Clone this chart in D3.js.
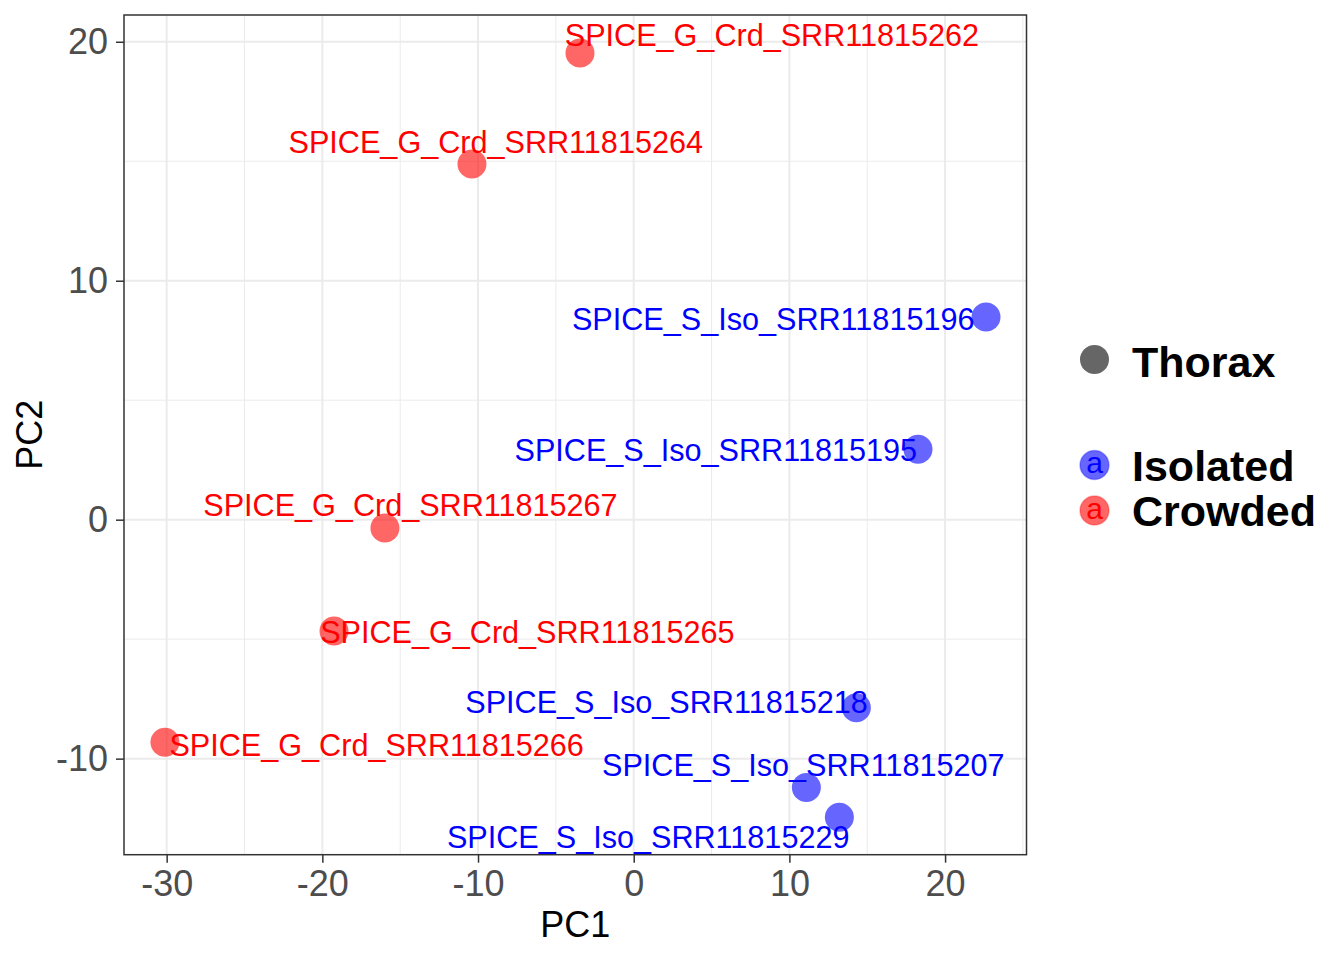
<!DOCTYPE html>
<html>
<head>
<meta charset="utf-8">
<script src="https://cdn.jsdelivr.net/npm/d3@7"></script>
<style>
  body { margin: 0; background: #fff; }
  svg { display: block; font-family: "Liberation Sans", Arial, Helvetica, sans-serif; }
</style>
</head>
<body>
<div id="chart"></div>
<script>
// ---- DATA ----
var samples = ["SPICE_G_Crd_SRR11815262", "SPICE_G_Crd_SRR11815264", "SPICE_S_Iso_SRR11815196",
               "SPICE_S_Iso_SRR11815195", "SPICE_G_Crd_SRR11815267", "SPICE_G_Crd_SRR11815265",
               "SPICE_S_Iso_SRR11815218", "SPICE_G_Crd_SRR11815266", "SPICE_S_Iso_SRR11815207",
               "SPICE_S_Iso_SRR11815229"];
var groups = ["Crowded", "Crowded", "Isolated", "Isolated", "Crowded", "Crowded",
              "Isolated", "Crowded", "Isolated", "Isolated"];
var pc1 = [-3.45, -10.39, 22.63, 18.26, -15.98, -19.25, 14.30, -30.11, 11.09, 13.21];
var pc2 = [19.53, 14.88, 8.48, 2.95, -0.35, -4.66, -7.87, -9.31, -11.21, -12.45];
// repelled label centres (data units)
var labelPC1 = [8.88, -8.86, 8.96, 5.27, -14.34, -6.83, 2.11, -16.51, 10.89, 0.93];
var labelPC2 = [20.27, 15.80, 8.41, 2.93, 0.60, -4.70, -7.63, -9.41, -10.28, -13.26];

var xTicks = [-30, -20, -10, 0, 10, 20],
    xMinor = [-25, -15, -5, 5, 15, 25],
    yTicks = [-10, 0, 10, 20],
    yMinor = [-5, 5, 15];

var legendGroups = ["Isolated", "Crowded"],
    tissue = "Thorax";

// ---- CHART ----
var width = 1344, height = 960,
    panel = {left: 124, right: 1026.5, top: 15, bottom: 854.7};

var svg = d3.select("#chart").append("svg")
    .attr("width", width)
    .attr("height", height);

var xScale = d3.scaleLinear().domain([-32.74, 25.23]).range([panel.left, panel.right]);
var yScale = d3.scaleLinear().domain([-14.02, 21.12]).range([panel.bottom, panel.top]);

var colour = d3.scaleOrdinal().domain(legendGroups).range(["#0000FF", "#FF0000"]);

// grid: minor then major
var grid = svg.append("g");
grid.selectAll(".vminor").data(xMinor).enter().append("line")
    .attr("x1", xScale).attr("x2", xScale)
    .attr("y1", panel.top).attr("y2", panel.bottom)
    .attr("stroke", "#EBEBEB").attr("stroke-width", 1);
grid.selectAll(".hminor").data(yMinor).enter().append("line")
    .attr("y1", yScale).attr("y2", yScale)
    .attr("x1", panel.left).attr("x2", panel.right)
    .attr("stroke", "#EBEBEB").attr("stroke-width", 1);
grid.selectAll(".vmajor").data(xTicks).enter().append("line")
    .attr("x1", xScale).attr("x2", xScale)
    .attr("y1", panel.top).attr("y2", panel.bottom)
    .attr("stroke", "#EBEBEB").attr("stroke-width", 2);
grid.selectAll(".hmajor").data(yTicks).enter().append("line")
    .attr("y1", yScale).attr("y2", yScale)
    .attr("x1", panel.left).attr("x2", panel.right)
    .attr("stroke", "#EBEBEB").attr("stroke-width", 2);

// points
var idx = d3.range(samples.length);
svg.append("g").selectAll("circle")
    .data(idx)
    .enter()
    .append("circle")
        .attr("cx", function(i){return xScale(pc1[i])})
        .attr("cy", function(i){return yScale(pc2[i])})
        .attr("r", 14.5)
        .attr("fill", function(i){return colour(groups[i])})
        .attr("fill-opacity", 0.6);

// labels
svg.append("g").selectAll("text")
    .data(idx)
    .enter()
    .append("text")
        .attr("x", function(i){return xScale(labelPC1[i])})
        .attr("y", function(i){return yScale(labelPC2[i])})
        .attr("dy", "0.36em")
        .attr("text-anchor", "middle")
        .attr("font-size", 30.6)
        .attr("fill", function(i){return colour(groups[i])})
        .text(function(i){return samples[i]});

// panel border
svg.append("rect")
    .attr("x", panel.left).attr("y", panel.top)
    .attr("width", panel.right - panel.left)
    .attr("height", panel.bottom - panel.top)
    .attr("fill", "none")
    .attr("stroke", "#333333")
    .attr("stroke-width", 1.5);

// axes (plain hyphen minus like R)
var fmt = function(d){return String(d)};
var xAxis = d3.axisBottom(xScale).tickValues(xTicks).tickFormat(fmt).tickSize(8).tickPadding(8);
var yAxis = d3.axisLeft(yScale).tickValues(yTicks).tickFormat(fmt).tickSize(8).tickPadding(8);

var gx = svg.append("g")
    .attr("transform", "translate(0," + panel.bottom + ")")
    .call(xAxis);
var gy = svg.append("g")
    .attr("transform", "translate(" + panel.left + ",0)")
    .call(yAxis);

[gx, gy].forEach(function(g){
    g.select(".domain").remove();
    g.selectAll(".tick line").attr("stroke", "#333333").attr("stroke-width", 1.5);
    g.selectAll(".tick text")
        .attr("fill", "#4D4D4D")
        .attr("font-size", 36)
        .attr("font-family", "Liberation Sans, Arial, sans-serif");
});

// axis titles
svg.append("text")
    .attr("x", (panel.left + panel.right) / 2)
    .attr("y", 937)
    .attr("text-anchor", "middle")
    .attr("font-size", 36)
    .text("PC1");

svg.append("text")
    .attr("transform", "translate(41.5," + (panel.top + panel.bottom) / 2 + ") rotate(-90)")
    .attr("text-anchor", "middle")
    .attr("font-size", 36)
    .text("PC2");

// legend
var legend = svg.append("g");
legend.append("circle")
    .attr("cx", 1094.5).attr("cy", 359.5).attr("r", 14.5)
    .attr("fill", "#000").attr("fill-opacity", 0.6);
legend.append("text")
    .attr("x", 1132).attr("y", 376.5)
    .attr("font-size", 43).attr("font-weight", "bold")
    .text(tissue);

var keys = legend.selectAll(".key")
    .data(legendGroups)
    .enter()
    .append("g")
        .attr("transform", function(d, i){return "translate(0," + (465 + i * 45.5) + ")"});
keys.append("circle")
    .attr("cx", 1094.5).attr("r", 14.5)
    .attr("fill", function(d){return colour(d)})
    .attr("fill-opacity", 0.6)
    .attr("stroke", function(d){return colour(d)})
    .attr("stroke-opacity", 0.3)
    .attr("stroke-width", 1.5);
keys.append("text")
    .attr("x", 1094.5).attr("y", 8)
    .attr("text-anchor", "middle")
    .attr("font-size", 30)
    .attr("fill", function(d){return colour(d)})
    .text("a");
keys.append("text")
    .attr("x", 1132).attr("y", 15.5)
    .attr("font-size", 43).attr("font-weight", "bold")
    .text(function(d){return d});
</script>
</body>
</html>
